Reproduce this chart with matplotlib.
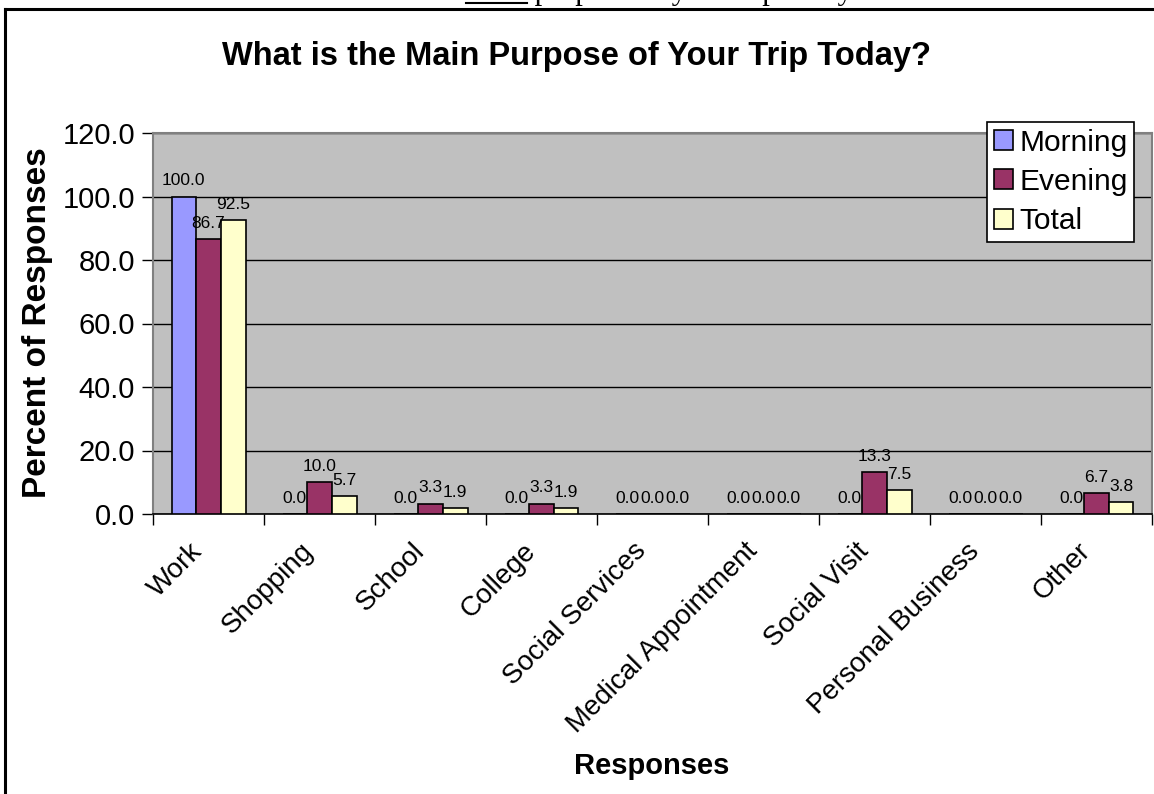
import matplotlib
matplotlib.use("Agg")
import matplotlib.pyplot as plt
from matplotlib.lines import Line2D
from matplotlib.patches import Patch
from matplotlib.transforms import ScaledTranslation
import numpy as np

categories = ["Work", "Shopping", "School", "College", "Social Services",
              "Medical Appointment", "Social Visit", "Personal Business", "Other"]
morning = [100.0, 0.0, 0.0, 0.0, 0.0, 0.0, 0.0, 0.0, 0.0]
evening = [86.7, 10.0, 3.3, 3.3, 0.0, 0.0, 13.3, 0.0, 6.7]
total = [92.5, 5.7, 1.9, 1.9, 0.0, 0.0, 7.5, 0.0, 3.8]
series_names = ["Morning", "Evening", "Total"]
series_colors = ["#9999FF", "#993366", "#FFFFCC"]
y_ticks = [0, 20, 40, 60, 80, 100, 120]

plt.rcParams["font.family"] = ["Liberation Sans", "DejaVu Sans"]

W, H = 1154, 794
fig = plt.figure(figsize=(W / 100, H / 100), dpi=100)

def fx(px):
    return px / W

def fy(py):
    return 1 - py / H

# outer frame of the chart object
fig.add_artist(Line2D([fx(5), fx(5)], [fy(9), fy(800)], color="black", lw=2.2))
fig.add_artist(Line2D([fx(5), fx(1160)], [fy(9), fy(9)], color="black", lw=2.2))

# tail of the question text sitting above the frame
t_main = fig.text(fx(466), fy(-1), "main", family=["Liberation Serif"], fontsize=22,
                  ha="left", va="baseline")
fig.canvas.draw()
r = fig.canvas.get_renderer()
bb = t_main.get_window_extent(r)
fig.add_artist(Line2D([bb.x0 / W, bb.x1 / W], [fy(3), fy(3)], color="black", lw=1.5))
fig.text(bb.x1 / W, fy(-1), " purpose of your trip today", family=["Liberation Serif"],
         fontsize=22, ha="left", va="baseline")

ax = fig.add_axes([fx(153), fy(514), fx(1152) - fx(153), fy(133) - fy(514)])
ax.set_facecolor("#C0C0C0")

x = np.arange(len(categories))
bw = 1 / 4.5
offsets = [-bw, 0, bw]
for vals, name, col, off in zip([morning, evening, total], series_names, series_colors, offsets):
    ax.bar(x + off, vals, width=bw, color=col, edgecolor="black", linewidth=1.2,
           label=name, zorder=3)
    for xi, v in zip(x, vals):
        ax.annotate(f"{v:.1f}", (xi + off, v), xytext=(0, 8), textcoords="offset points",
                    ha="center", va="baseline", fontsize=12.5, zorder=4)

ax.set_xlim(-0.5, len(categories) - 0.5)
ax.set_ylim(0, 120)
ax.set_yticks(y_ticks)
ax.set_yticklabels([f"{t:.1f}" for t in y_ticks], fontsize=21)
ax.yaxis.grid(True, color="black", lw=1, zorder=1)
ax.set_axisbelow(True)

# category names: slanted text below each group
ax.set_xticks(x)
ax.set_xticklabels([])
ax.tick_params(axis="x", which="major", length=0)
label_trans = ax.get_xaxis_transform() + ScaledTranslation(-0.19, -0.24, fig.dpi_scale_trans)
for xi, cat in zip(x, categories):
    ax.text(xi, 0, cat, transform=label_trans, rotation=45, ha="right", va="top",
            rotation_mode="anchor", fontsize=20, clip_on=False)

ax.set_xticks(np.arange(-0.5, len(categories)), minor=True)
ax.tick_params(axis="x", which="minor", length=8, color="black", width=1, direction="out")
ax.tick_params(axis="y", length=8, color="black", width=1, direction="out", pad=5)

for side in ["top", "right", "left"]:
    ax.spines[side].set_color("#808080")
    ax.spines[side].set_linewidth(1.5)
ax.spines["bottom"].set_color("black")
ax.spines["bottom"].set_linewidth(1.2)

handles = [Patch(facecolor=c, edgecolor="black", lw=1.2) for c in series_colors]
ax_w = 1152 - 153
ax_h = 514 - 133
leg = ax.legend(handles, series_names, loc="upper right",
                bbox_to_anchor=((1134 - 153) / ax_w, 1 + (133 - 122) / ax_h),
                fontsize=21.5, frameon=True, fancybox=False, edgecolor="black",
                framealpha=1, borderpad=0.22, labelspacing=0.38, handlelength=0.65,
                handleheight=0.65, handletextpad=0.2, borderaxespad=0)
leg.get_frame().set_linewidth(1.2)
leg.set_zorder(5)

fig.text(0.5, fy(57), "What is the Main Purpose of Your Trip Today?", ha="center",
         va="center", fontsize=23.5, fontweight="bold")
fig.text(fx(38), fy(323), "Percent of Responses", rotation=90, ha="center", va="center",
         fontsize=24, fontweight="bold")
fig.text(fx(652), fy(766), "Responses", ha="center", va="center", fontsize=21,
         fontweight="bold")

fig.savefig("out.png", dpi=100)
